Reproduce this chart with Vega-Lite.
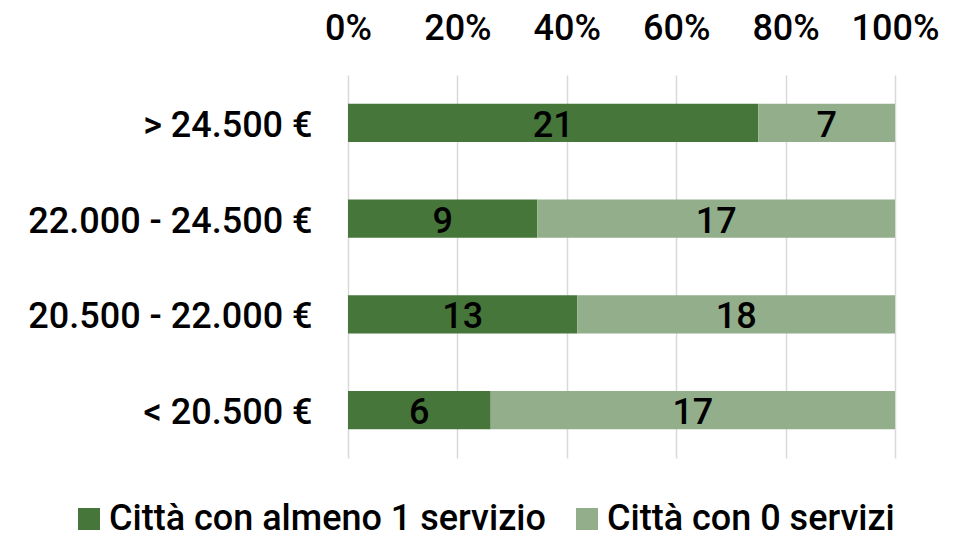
{
  "$schema": "https://vega.github.io/schema/vega-lite/v6.json",
  "width": 547,
  "height": 383,
  "autosize": {"type": "none"},
  "padding": {"left": 348, "top": 75, "right": 67, "bottom": 75},
  "background": "white",
  "config": {"font": "Roboto", "view": {"stroke": null}},
  "data": {
    "values": [
      {"fascia": "> 24.500 €", "serie": "Città con almeno 1 servizio", "n": 21},
      {"fascia": "> 24.500 €", "serie": "Città con 0 servizi", "n": 7},
      {"fascia": "22.000 - 24.500 €", "serie": "Città con almeno 1 servizio", "n": 9},
      {"fascia": "22.000 - 24.500 €", "serie": "Città con 0 servizi", "n": 17},
      {"fascia": "20.500 - 22.000 €", "serie": "Città con almeno 1 servizio", "n": 13},
      {"fascia": "20.500 - 22.000 €", "serie": "Città con 0 servizi", "n": 18},
      {"fascia": "< 20.500 €", "serie": "Città con almeno 1 servizio", "n": 6},
      {"fascia": "< 20.500 €", "serie": "Città con 0 servizi", "n": 17}
    ]
  },
  "transform": [
    {"stack": "n", "groupby": ["fascia"], "sort": [{"field": "serie", "order": "descending"}], "offset": "normalize", "as": ["v0", "v1"]}
  ],
  "layer": [
    {
      "mark": {"type": "bar"},
      "encoding": {
        "y": {
          "field": "fascia",
          "type": "nominal",
          "sort": ["> 24.500 €", "22.000 - 24.500 €", "20.500 - 22.000 €", "< 20.500 €"],
          "scale": {"paddingInner": 0.6, "paddingOuter": 0.3},
          "axis": {
            "title": null,
            "labelFontSize": 36,
            "labelFontWeight": 500,
            "labelColor": "#000000",
            "labelPadding": 36,
            "labelOffset": 3,
            "ticks": false,
            "tickSize": 0,
            "domain": false,
            "labelLimit": 500
          }
        },
        "x": {
          "field": "v0",
          "type": "quantitative",
          "scale": {"domain": [0, 1]},
          "axis": {
            "orient": "top",
            "format": "%",
            "values": [0, 0.2, 0.4, 0.6, 0.8, 1],
            "title": null,
            "labelFontSize": 36,
            "labelFontWeight": 500,
            "labelColor": "#000000",
            "labelPadding": 28,
            "ticks": false,
            "tickSize": 0,
            "domain": false,
            "grid": true,
            "gridColor": "#D9D9D9",
            "gridWidth": 1.5,
            "labelFlush": false
          }
        },
        "x2": {"field": "v1"},
        "color": {
          "field": "serie",
          "type": "nominal",
          "scale": {
            "domain": ["Città con almeno 1 servizio", "Città con 0 servizi"],
            "range": ["#46763A", "#93AE8B"]
          },
          "legend": {
            "orient": "none",
            "legendX": -277,
            "legendY": 426,
            "direction": "horizontal",
            "title": null,
            "symbolType": "square",
            "symbolSize": 484,
            "symbolStrokeWidth": 0,
            "symbolOpacity": 1,
            "labelFontSize": 36,
            "labelFontWeight": 500,
            "labelColor": "#000000",
            "labelLimit": 1000,
            "labelOffset": 2,
            "columnPadding": 23
          }
        }
      }
    },
    {
      "transform": [
        {"fold": ["v0", "v1"], "as": ["k", "v"]},
        {"aggregate": [{"op": "mean", "field": "v", "as": "mid"}], "groupby": ["fascia", "serie", "n"]}
      ],
      "mark": {"type": "text", "fontSize": 36, "fontWeight": 500, "color": "#000000", "baseline": "middle", "dy": 3},
      "encoding": {
        "y": {
          "field": "fascia",
          "type": "nominal",
          "sort": ["> 24.500 €", "22.000 - 24.500 €", "20.500 - 22.000 €", "< 20.500 €"]
        },
        "x": {"field": "mid", "type": "quantitative"},
        "text": {"field": "n", "type": "quantitative"}
      }
    }
  ]
}
